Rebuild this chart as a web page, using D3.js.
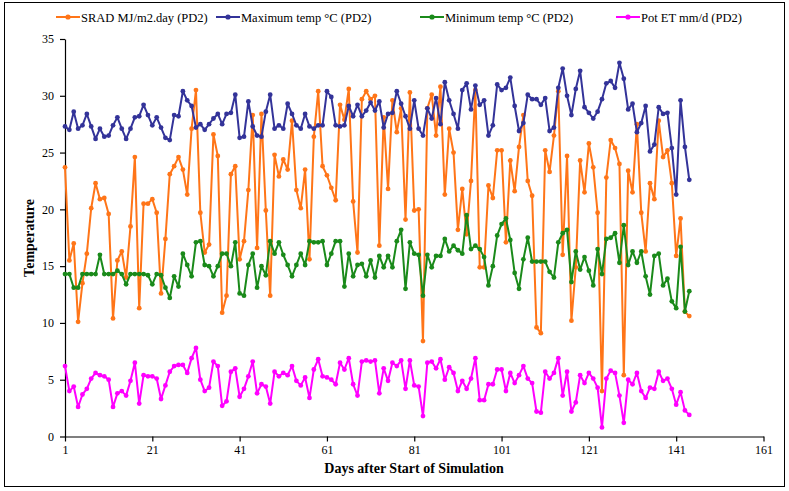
<!DOCTYPE html>
<html><head><meta charset="utf-8">
<script src="https://cdn.jsdelivr.net/npm/d3@7"></script>
<style>
html,body{margin:0;padding:0;background:#fff;}
svg{display:block;font-family:"Liberation Serif","Times New Roman",serif;}
</style></head>
<body>
<svg id="chart" width="789" height="491"></svg>
<script>
// ---- data ----
const xTicks = [1, 21, 41, 61, 81, 101, 121, 141, 161];
const yTicks = [0, 5, 10, 15, 20, 25, 30, 35];
const seriesNames = ["SRAD MJ/m2.day (PD2)", "Maximum temp \u00B0C (PD2)", "Minimum temp \u00B0C (PD2)", "Pot ET mm/d (PD2)"];
const seriesColors = ["#FF7518", "#333399", "#1A8A1A", "#FF00FF"];

const srad = [23.7,15.5,17.0,10.1,13.5,16.1,20.1,22.3,20.9,21.0,
 19.6,10.4,15.5,16.3,14.0,18.5,24.6,11.3,20.5,20.5,
 20.9,19.7,12.6,17.4,23.1,23.8,24.6,23.5,21.3,27.1,
 30.5,19.7,16.2,16.9,26.6,24.7,10.9,12.4,23.1,23.8,
 15.6,17.2,21.7,28.3,16.6,28.4,19.9,12.4,24.8,22.9,
 24.4,23.5,27.8,21.7,20.1,23.5,15.6,26.4,30.4,23.8,
 23.0,21.9,20.8,29.2,27.9,30.6,20.7,16.2,29.7,30.4,
 29.7,30.0,16.8,28.1,21.8,29.6,26.8,28.9,19.1,30.3,
 19.9,20.0,8.4,28.9,30.1,26.5,30.8,21.3,27.1,25.0,
 18.2,21.8,17.8,22.5,30.5,14.9,14.9,22.1,21.0,25.2,
 25.2,17.1,24.3,21.6,25.5,28.3,22.5,21.2,9.6,9.1,
 25.2,23.3,26.5,30.4,16.0,24.7,10.2,14.9,24.3,21.5,
 25.8,23.7,19.7,4.0,22.8,26.1,25.4,24.0,5.4,23.4,
 21.5,27.5,19.7,16.3,22.3,20.9,27.8,24.6,25.2,22.3,
 15.9,19.2,11.0,10.6];

const maxTemp = [27.3,27.0,28.6,27.1,27.4,28.4,27.3,26.2,27.1,26.4,
 26.5,27.4,28.1,27.1,26.2,27.1,28.1,28.2,29.2,28.3,
 27.4,28.1,27.2,26.3,26.1,28.3,28.2,30.4,29.6,29.1,
 27.2,27.5,27.0,27.5,28.0,28.4,27.5,28.4,28.5,30.1,
 26.3,26.4,29.5,27.3,26.5,26.4,28.6,30.1,27.1,27.4,
 27.1,29.3,28.4,27.4,27.1,28.4,27.3,27.1,27.4,27.4,
 30.4,29.9,27.4,27.3,27.4,29.1,28.2,29.2,28.2,28.7,
 29.4,28.7,29.5,27.2,28.4,28.5,30.4,29.3,28.2,27.1,
 29.6,27.1,26.5,28.9,28.0,29.8,27.5,31.2,29.6,28.4,
 27.1,30.5,31.1,28.8,30.9,29.2,29.6,26.5,27.4,31.0,
 30.5,30.7,31.6,29.1,26.9,27.6,30.1,29.7,29.7,29.2,
 29.8,26.9,27.2,30.7,32.4,30.0,28.3,30.6,32.2,29.0,
 28.5,28.0,28.6,29.7,31.1,31.3,30.7,32.9,31.5,28.8,
 29.3,26.8,27.6,29.1,25.1,25.7,29.0,28.4,28.5,25.4,
 21.3,29.6,25.5,22.6];

const minTemp = [14.3,14.3,13.1,13.1,14.3,14.3,14.3,14.3,16.0,14.3,
 14.3,14.3,14.6,14.3,13.4,14.3,14.3,14.3,14.3,14.2,
 13.4,14.3,14.2,13.1,12.2,14.1,13.2,16.1,15.1,14.1,
 17.1,17.2,15.1,15.0,14.1,15.0,16.1,16.1,15.0,17.1,
 12.6,12.4,15.1,16.1,13.1,15.0,14.2,17.2,16.1,17.1,
 16.0,15.1,14.1,15.1,16.1,15.1,17.2,17.1,17.1,17.2,
 15.1,16.1,17.2,17.2,13.2,16.1,14.1,15.1,15.2,14.1,
 15.5,14.0,15.9,14.9,15.9,14.9,17.2,18.2,13.0,17.1,
 16.1,16.0,12.4,16.0,14.9,15.9,15.9,17.4,16.3,16.8,
 16.4,16.1,19.5,16.5,16.8,16.5,15.8,13.3,15.0,17.7,
 18.7,19.2,17.3,14.4,13.0,15.6,17.5,15.4,15.4,15.4,
 15.4,14.5,14.0,17.1,17.9,18.2,13.6,16.3,14.7,15.8,
 14.6,13.3,16.5,14.3,17.4,17.5,17.9,15.3,18.6,15.1,
 16.3,15.3,16.3,14.1,12.5,15.9,16.1,13.3,13.9,11.9,
 11.3,16.7,11.0,12.8];

const potET = [6.2,4.0,4.4,2.6,3.7,4.2,5.1,5.6,5.4,5.3,
 5.0,2.6,3.8,4.0,3.6,4.9,6.5,2.9,5.4,5.3,
 5.3,5.1,3.3,4.5,5.7,6.2,6.3,6.3,5.6,6.9,
 7.8,5.0,4.0,4.3,6.6,6.2,2.7,3.1,5.7,6.0,
 3.5,4.2,5.3,6.6,3.8,4.6,4.4,2.9,5.7,5.3,
 5.6,5.4,6.2,4.9,4.5,5.2,3.4,5.9,6.8,5.3,
 5.2,5.0,4.6,6.5,5.9,6.9,4.6,3.6,6.6,6.7,
 6.6,6.7,3.8,6.0,4.9,6.5,6.2,6.7,4.2,6.7,
 4.5,4.4,1.8,6.5,6.6,6.0,6.8,5.0,6.1,5.6,
 4.0,4.9,4.2,5.1,6.9,3.2,3.2,4.6,4.6,5.9,
 5.9,4.0,5.6,4.7,5.4,6.2,5.1,4.7,2.2,2.1,
 5.7,5.1,5.6,6.9,3.6,5.7,2.2,3.0,5.4,4.7,
 5.6,5.1,4.3,0.8,5.1,5.8,5.6,3.6,1.2,5.0,
 4.6,5.6,4.0,3.4,4.3,4.2,5.7,4.9,5.1,4.2,
 2.8,3.9,2.3,1.9];

const allSeries = [srad, maxTemp, minTemp, potET];

// ---- drawing ----
const svg = d3.select("#chart");
const x = d3.scaleLinear().domain([1, 161]).range([65, 763.5]);
const y = d3.scaleLinear().domain([0, 35]).range([436.5, 39]);

// outer border
svg.append("rect").attr("x", 4.5).attr("y", 2.5).attr("width", 780).attr("height", 484)
  .attr("fill", "none").attr("stroke", "#000").attr("stroke-width", 1);

// axes
const xAxis = svg.append("g").attr("transform", "translate(0,436.5)")
  .call(d3.axisBottom(x).tickValues(xTicks).tickFormat(d3.format("d")).tickSize(5).tickSizeOuter(0).tickPadding(4));
const yAxis = svg.append("g").attr("transform", "translate(65,0)")
  .call(d3.axisLeft(y).tickValues(yTicks).tickFormat(d3.format("d")).tickSize(5).tickSizeOuter(0).tickPadding(6));
[xAxis, yAxis].forEach(g => {
  g.selectAll("path,line").attr("stroke", "#000").attr("stroke-width", 1.2);
  g.selectAll("text").attr("font-family", "Liberation Serif, serif").attr("font-size", 12).attr("fill", "#000");
});

// axis titles
svg.append("text").attr("x", 414).attr("y", 473).attr("text-anchor", "middle")
  .attr("font-weight", "bold").attr("font-size", 14).text("Days after Start of Simulation");
svg.append("text").attr("transform", "translate(34,238) rotate(-90)").attr("text-anchor", "middle")
  .attr("font-weight", "bold").attr("font-size", 14).text("Temperature");

// series
const line = d3.line().x((d, i) => x(i + 1)).y(d => y(d));
allSeries.forEach((vals, k) => {
  const g = svg.append("g");
  g.append("path").datum(vals).attr("d", line).attr("fill", "none")
    .attr("stroke", seriesColors[k]).attr("stroke-width", 2).attr("stroke-linejoin", "round");
  g.selectAll("circle").data(vals).join("circle")
    .attr("cx", (d, i) => x(i + 1)).attr("cy", d => y(d)).attr("r", 2.4)
    .attr("fill", seriesColors[k]);
});

// legend
const legendX = [56, 216, 420, 616];
seriesNames.forEach((name, k) => {
  const g = svg.append("g").attr("transform", `translate(${legendX[k]},17)`);
  g.append("line").attr("x1", 0).attr("x2", 24).attr("y1", 0).attr("y2", 0)
    .attr("stroke", seriesColors[k]).attr("stroke-width", 2);
  g.append("circle").attr("cx", 12).attr("cy", 0).attr("r", 2.6).attr("fill", seriesColors[k]);
  g.append("text").attr("x", 25).attr("y", 4.5).attr("font-size", 12.5).text(name);
});
</script>
</body></html>
